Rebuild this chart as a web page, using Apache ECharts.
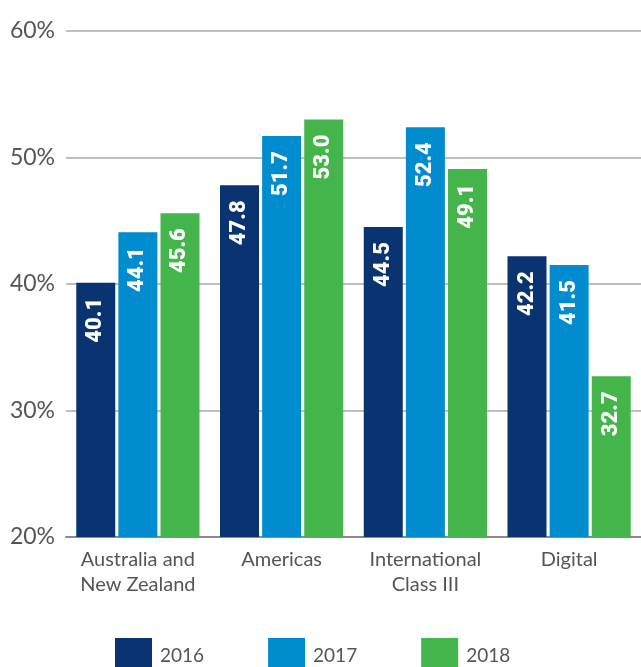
<!DOCTYPE html>
<html>
<head>
    <meta charset="utf-8">
    <title>Bars</title>
    <script src="https://cdn.jsdelivr.net/npm/echarts@6/dist/echarts.min.js"></script>
    <style>
        html, body { margin: 0; padding: 0; background: #fff; }
        #main { width: 641px; height: 667px; }
    </style>
</head>
<body>
<div id="main"></div>
<script type="text/javascript">
    var categories = ['Australia and\nNew Zealand', 'Americas', 'International\nClass III', 'Digital'];
    var years = ['2016', '2017', '2018'];
    var colors = ['#0a3372', '#008ccf', '#44b54a'];
    var values2016 = [40.1, 47.8, 44.5, 42.2];
    var values2017 = [44.1, 51.7, 52.4, 41.5];
    var values2018 = [45.6, 53.0, 49.1, 32.7];
    var allValues = [values2016, values2017, values2018];

    var myChart = echarts.init(document.getElementById('main'));

    var series = years.map(function (y, i) {
        return {
            name: y,
            type: 'bar',
            barWidth: 39,
            barGap: '8%',
            itemStyle: { color: colors[i] },
            label: {
                show: true,
                position: 'insideTop',
                rotate: 90,
                align: 'right',
                verticalAlign: 'middle',
                distance: 15,
                color: '#fff',
                fontFamily: 'Roboto',
                fontWeight: 900,
                fontSize: 22,
                formatter: function (p) { return p.value.toFixed(1); }
            },
            data: allValues[i]
        };
    });

    var option = {
        animation: false,
        grid: { left: 66, top: 31, width: 580, height: 506 },
        legend: {
            top: 633,
            left: 110,
            itemWidth: 37,
            itemHeight: 36,
            itemGap: 64,
            icon: 'rect',
            textStyle: { fontFamily: 'Lato', fontSize: 19, color: '#555', padding: [0, 0, 0, 3] },
            data: years
        },
        xAxis: {
            type: 'category',
            data: categories,
            axisTick: { show: false },
            axisLine: { lineStyle: { color: '#8a8a8a', width: 2 } },
            axisLabel: { interval: 0, fontFamily: 'Lato', fontSize: 20, color: '#555', lineHeight: 25, margin: 10 }
        },
        yAxis: {
            type: 'value',
            min: 20,
            max: 60,
            interval: 10,
            axisLine: { show: false },
            axisTick: { show: false },
            axisLabel: { fontFamily: 'Lato', fontSize: 23, color: '#555', margin: 11, formatter: '{value}%' },
            splitLine: { lineStyle: { color: '#aaa', width: 1.5 } }
        },
        series: series
    };

    myChart.setOption(option);
</script>
</body>
</html>
